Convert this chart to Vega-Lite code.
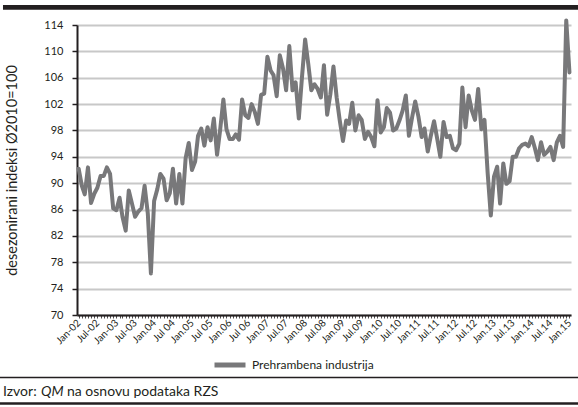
{
  "$schema": "https://vega.github.io/schema/vega-lite/v6.json",
  "width": 494,
  "height": 290,
  "autosize": {"type": "none"},
  "padding": {"left": 77, "top": 25, "right": 7, "bottom": 92},
  "background": "white",
  "config": {"font": "Lato", "view": {"stroke": null}},
  "resolve": {"axis": {"x": "independent", "y": "independent"}},
  "data": {"values": [
    {"date": "2002-01-01", "value": 92.2, "series": "Prehrambena industrija"},
    {"date": "2002-02-01", "value": 89.6, "series": "Prehrambena industrija"},
    {"date": "2002-03-01", "value": 88.3, "series": "Prehrambena industrija"},
    {"date": "2002-04-01", "value": 92.4, "series": "Prehrambena industrija"},
    {"date": "2002-05-01", "value": 87.0, "series": "Prehrambena industrija"},
    {"date": "2002-06-01", "value": 88.4, "series": "Prehrambena industrija"},
    {"date": "2002-07-01", "value": 89.3, "series": "Prehrambena industrija"},
    {"date": "2002-08-01", "value": 91.1, "series": "Prehrambena industrija"},
    {"date": "2002-09-01", "value": 91.1, "series": "Prehrambena industrija"},
    {"date": "2002-10-01", "value": 92.4, "series": "Prehrambena industrija"},
    {"date": "2002-11-01", "value": 91.4, "series": "Prehrambena industrija"},
    {"date": "2002-12-01", "value": 86.2, "series": "Prehrambena industrija"},
    {"date": "2003-01-01", "value": 85.9, "series": "Prehrambena industrija"},
    {"date": "2003-02-01", "value": 87.8, "series": "Prehrambena industrija"},
    {"date": "2003-03-01", "value": 84.9, "series": "Prehrambena industrija"},
    {"date": "2003-04-01", "value": 82.8, "series": "Prehrambena industrija"},
    {"date": "2003-05-01", "value": 88.9, "series": "Prehrambena industrija"},
    {"date": "2003-06-01", "value": 86.9, "series": "Prehrambena industrija"},
    {"date": "2003-07-01", "value": 84.9, "series": "Prehrambena industrija"},
    {"date": "2003-08-01", "value": 85.7, "series": "Prehrambena industrija"},
    {"date": "2003-09-01", "value": 86.2, "series": "Prehrambena industrija"},
    {"date": "2003-10-01", "value": 89.6, "series": "Prehrambena industrija"},
    {"date": "2003-11-01", "value": 85.4, "series": "Prehrambena industrija"},
    {"date": "2003-12-01", "value": 76.3, "series": "Prehrambena industrija"},
    {"date": "2004-01-01", "value": 87.3, "series": "Prehrambena industrija"},
    {"date": "2004-02-01", "value": 89.1, "series": "Prehrambena industrija"},
    {"date": "2004-03-01", "value": 91.4, "series": "Prehrambena industrija"},
    {"date": "2004-04-01", "value": 90.7, "series": "Prehrambena industrija"},
    {"date": "2004-05-01", "value": 87.4, "series": "Prehrambena industrija"},
    {"date": "2004-06-01", "value": 88.5, "series": "Prehrambena industrija"},
    {"date": "2004-07-01", "value": 92.2, "series": "Prehrambena industrija"},
    {"date": "2004-08-01", "value": 86.9, "series": "Prehrambena industrija"},
    {"date": "2004-09-01", "value": 91.4, "series": "Prehrambena industrija"},
    {"date": "2004-10-01", "value": 86.9, "series": "Prehrambena industrija"},
    {"date": "2004-11-01", "value": 93.8, "series": "Prehrambena industrija"},
    {"date": "2004-12-01", "value": 96.1, "series": "Prehrambena industrija"},
    {"date": "2005-01-01", "value": 92.0, "series": "Prehrambena industrija"},
    {"date": "2005-02-01", "value": 93.3, "series": "Prehrambena industrija"},
    {"date": "2005-03-01", "value": 97.2, "series": "Prehrambena industrija"},
    {"date": "2005-04-01", "value": 98.3, "series": "Prehrambena industrija"},
    {"date": "2005-05-01", "value": 95.7, "series": "Prehrambena industrija"},
    {"date": "2005-06-01", "value": 98.5, "series": "Prehrambena industrija"},
    {"date": "2005-07-01", "value": 96.5, "series": "Prehrambena industrija"},
    {"date": "2005-08-01", "value": 99.8, "series": "Prehrambena industrija"},
    {"date": "2005-09-01", "value": 94.3, "series": "Prehrambena industrija"},
    {"date": "2005-10-01", "value": 98.1, "series": "Prehrambena industrija"},
    {"date": "2005-11-01", "value": 102.7, "series": "Prehrambena industrija"},
    {"date": "2005-12-01", "value": 98.2, "series": "Prehrambena industrija"},
    {"date": "2006-01-01", "value": 96.7, "series": "Prehrambena industrija"},
    {"date": "2006-02-01", "value": 96.7, "series": "Prehrambena industrija"},
    {"date": "2006-03-01", "value": 97.4, "series": "Prehrambena industrija"},
    {"date": "2006-04-01", "value": 96.6, "series": "Prehrambena industrija"},
    {"date": "2006-05-01", "value": 102.7, "series": "Prehrambena industrija"},
    {"date": "2006-06-01", "value": 100.3, "series": "Prehrambena industrija"},
    {"date": "2006-07-01", "value": 99.9, "series": "Prehrambena industrija"},
    {"date": "2006-08-01", "value": 102.0, "series": "Prehrambena industrija"},
    {"date": "2006-09-01", "value": 100.8, "series": "Prehrambena industrija"},
    {"date": "2006-10-01", "value": 99.0, "series": "Prehrambena industrija"},
    {"date": "2006-11-01", "value": 103.4, "series": "Prehrambena industrija"},
    {"date": "2006-12-01", "value": 103.6, "series": "Prehrambena industrija"},
    {"date": "2007-01-01", "value": 109.2, "series": "Prehrambena industrija"},
    {"date": "2007-02-01", "value": 107.1, "series": "Prehrambena industrija"},
    {"date": "2007-03-01", "value": 106.4, "series": "Prehrambena industrija"},
    {"date": "2007-04-01", "value": 103.2, "series": "Prehrambena industrija"},
    {"date": "2007-05-01", "value": 109.4, "series": "Prehrambena industrija"},
    {"date": "2007-06-01", "value": 107.4, "series": "Prehrambena industrija"},
    {"date": "2007-07-01", "value": 104.1, "series": "Prehrambena industrija"},
    {"date": "2007-08-01", "value": 110.8, "series": "Prehrambena industrija"},
    {"date": "2007-09-01", "value": 104.1, "series": "Prehrambena industrija"},
    {"date": "2007-10-01", "value": 105.3, "series": "Prehrambena industrija"},
    {"date": "2007-11-01", "value": 99.8, "series": "Prehrambena industrija"},
    {"date": "2007-12-01", "value": 106.0, "series": "Prehrambena industrija"},
    {"date": "2008-01-01", "value": 111.8, "series": "Prehrambena industrija"},
    {"date": "2008-02-01", "value": 108.0, "series": "Prehrambena industrija"},
    {"date": "2008-03-01", "value": 104.1, "series": "Prehrambena industrija"},
    {"date": "2008-04-01", "value": 105.0, "series": "Prehrambena industrija"},
    {"date": "2008-05-01", "value": 104.3, "series": "Prehrambena industrija"},
    {"date": "2008-06-01", "value": 103.0, "series": "Prehrambena industrija"},
    {"date": "2008-07-01", "value": 107.9, "series": "Prehrambena industrija"},
    {"date": "2008-08-01", "value": 100.4, "series": "Prehrambena industrija"},
    {"date": "2008-09-01", "value": 103.5, "series": "Prehrambena industrija"},
    {"date": "2008-10-01", "value": 107.7, "series": "Prehrambena industrija"},
    {"date": "2008-11-01", "value": 103.0, "series": "Prehrambena industrija"},
    {"date": "2008-12-01", "value": 99.5, "series": "Prehrambena industrija"},
    {"date": "2009-01-01", "value": 96.4, "series": "Prehrambena industrija"},
    {"date": "2009-02-01", "value": 99.5, "series": "Prehrambena industrija"},
    {"date": "2009-03-01", "value": 99.0, "series": "Prehrambena industrija"},
    {"date": "2009-04-01", "value": 102.2, "series": "Prehrambena industrija"},
    {"date": "2009-05-01", "value": 98.0, "series": "Prehrambena industrija"},
    {"date": "2009-06-01", "value": 100.3, "series": "Prehrambena industrija"},
    {"date": "2009-07-01", "value": 99.6, "series": "Prehrambena industrija"},
    {"date": "2009-08-01", "value": 96.7, "series": "Prehrambena industrija"},
    {"date": "2009-09-01", "value": 97.8, "series": "Prehrambena industrija"},
    {"date": "2009-10-01", "value": 97.0, "series": "Prehrambena industrija"},
    {"date": "2009-11-01", "value": 95.6, "series": "Prehrambena industrija"},
    {"date": "2009-12-01", "value": 102.6, "series": "Prehrambena industrija"},
    {"date": "2010-01-01", "value": 97.7, "series": "Prehrambena industrija"},
    {"date": "2010-02-01", "value": 98.5, "series": "Prehrambena industrija"},
    {"date": "2010-03-01", "value": 101.4, "series": "Prehrambena industrija"},
    {"date": "2010-04-01", "value": 100.7, "series": "Prehrambena industrija"},
    {"date": "2010-05-01", "value": 98.0, "series": "Prehrambena industrija"},
    {"date": "2010-06-01", "value": 98.3, "series": "Prehrambena industrija"},
    {"date": "2010-07-01", "value": 99.5, "series": "Prehrambena industrija"},
    {"date": "2010-08-01", "value": 101.0, "series": "Prehrambena industrija"},
    {"date": "2010-09-01", "value": 103.3, "series": "Prehrambena industrija"},
    {"date": "2010-10-01", "value": 97.2, "series": "Prehrambena industrija"},
    {"date": "2010-11-01", "value": 100.0, "series": "Prehrambena industrija"},
    {"date": "2010-12-01", "value": 102.4, "series": "Prehrambena industrija"},
    {"date": "2011-01-01", "value": 100.1, "series": "Prehrambena industrija"},
    {"date": "2011-02-01", "value": 97.0, "series": "Prehrambena industrija"},
    {"date": "2011-03-01", "value": 98.3, "series": "Prehrambena industrija"},
    {"date": "2011-04-01", "value": 94.8, "series": "Prehrambena industrija"},
    {"date": "2011-05-01", "value": 97.2, "series": "Prehrambena industrija"},
    {"date": "2011-06-01", "value": 99.4, "series": "Prehrambena industrija"},
    {"date": "2011-07-01", "value": 96.8, "series": "Prehrambena industrija"},
    {"date": "2011-08-01", "value": 94.0, "series": "Prehrambena industrija"},
    {"date": "2011-09-01", "value": 99.3, "series": "Prehrambena industrija"},
    {"date": "2011-10-01", "value": 97.0, "series": "Prehrambena industrija"},
    {"date": "2011-11-01", "value": 97.2, "series": "Prehrambena industrija"},
    {"date": "2011-12-01", "value": 95.3, "series": "Prehrambena industrija"},
    {"date": "2012-01-01", "value": 95.0, "series": "Prehrambena industrija"},
    {"date": "2012-02-01", "value": 96.0, "series": "Prehrambena industrija"},
    {"date": "2012-03-01", "value": 104.5, "series": "Prehrambena industrija"},
    {"date": "2012-04-01", "value": 98.5, "series": "Prehrambena industrija"},
    {"date": "2012-05-01", "value": 103.3, "series": "Prehrambena industrija"},
    {"date": "2012-06-01", "value": 101.0, "series": "Prehrambena industrija"},
    {"date": "2012-07-01", "value": 99.6, "series": "Prehrambena industrija"},
    {"date": "2012-08-01", "value": 104.3, "series": "Prehrambena industrija"},
    {"date": "2012-09-01", "value": 98.2, "series": "Prehrambena industrija"},
    {"date": "2012-10-01", "value": 99.6, "series": "Prehrambena industrija"},
    {"date": "2012-11-01", "value": 91.5, "series": "Prehrambena industrija"},
    {"date": "2012-12-01", "value": 85.1, "series": "Prehrambena industrija"},
    {"date": "2013-01-01", "value": 91.0, "series": "Prehrambena industrija"},
    {"date": "2013-02-01", "value": 92.5, "series": "Prehrambena industrija"},
    {"date": "2013-03-01", "value": 86.9, "series": "Prehrambena industrija"},
    {"date": "2013-04-01", "value": 93.0, "series": "Prehrambena industrija"},
    {"date": "2013-05-01", "value": 89.9, "series": "Prehrambena industrija"},
    {"date": "2013-06-01", "value": 90.3, "series": "Prehrambena industrija"},
    {"date": "2013-07-01", "value": 94.0, "series": "Prehrambena industrija"},
    {"date": "2013-08-01", "value": 94.0, "series": "Prehrambena industrija"},
    {"date": "2013-09-01", "value": 95.3, "series": "Prehrambena industrija"},
    {"date": "2013-10-01", "value": 95.8, "series": "Prehrambena industrija"},
    {"date": "2013-11-01", "value": 96.0, "series": "Prehrambena industrija"},
    {"date": "2013-12-01", "value": 95.6, "series": "Prehrambena industrija"},
    {"date": "2014-01-01", "value": 97.0, "series": "Prehrambena industrija"},
    {"date": "2014-02-01", "value": 95.3, "series": "Prehrambena industrija"},
    {"date": "2014-03-01", "value": 93.5, "series": "Prehrambena industrija"},
    {"date": "2014-04-01", "value": 96.2, "series": "Prehrambena industrija"},
    {"date": "2014-05-01", "value": 94.3, "series": "Prehrambena industrija"},
    {"date": "2014-06-01", "value": 94.8, "series": "Prehrambena industrija"},
    {"date": "2014-07-01", "value": 95.5, "series": "Prehrambena industrija"},
    {"date": "2014-08-01", "value": 93.5, "series": "Prehrambena industrija"},
    {"date": "2014-09-01", "value": 96.2, "series": "Prehrambena industrija"},
    {"date": "2014-10-01", "value": 97.2, "series": "Prehrambena industrija"},
    {"date": "2014-11-01", "value": 95.5, "series": "Prehrambena industrija"},
    {"date": "2014-12-01", "value": 114.7, "series": "Prehrambena industrija"},
    {"date": "2015-01-01", "value": 106.8, "series": "Prehrambena industrija"}
  ]},
  "layer": [
    {
      "mark": {"type": "line", "strokeWidth": 4, "strokeJoin": "round", "strokeCap": "round"},
      "encoding": {
        "x": {
          "field": "date", "type": "temporal",
          "scale": {"type": "utc", "domain": [{"year": 2001, "month": 12, "date": 16, "utc": true}, {"year": 2015, "month": 1, "date": 16, "utc": true}]},
          "axis": {
            "title": null,
            "tickCount": {"interval": "month", "step": 1},
            "labelExpr": "utcmonth(datum.value) % 6 == 0 ? ['Jan-02','Jul-02','Jan-03','Jul-03','Jan.04','Jul 04','Jan.05','Jul 05','Jan.06','Jul 06','Jan.07','Jul.07','Jan.08','Jul.08','Jan.09','Jul.09','Jan.10','Jul.10','Jan.11','Jul.11','Jan.12','Jul.12','Jan.13','Jul.13','Jan.14','Jul.14','Jan.15'][(utcyear(datum.value) - 2002) * 2 + utcmonth(datum.value) / 6] : ''",
            "labelAngle": -45,
            "labelAlign": "right",
            "labelBaseline": "middle",
            "labelFontSize": 10,
            "labelColor": "#231f20",
            "labelOverlap": false,
            "labelFlush": false,
            "labelBound": false,
            "labelPadding": 3,
            "grid": false,
            "tickSize": 3,
            "tickWidth": 0.8,
            "tickColor": "#231f20",
            "domainColor": "#231f20",
            "domainWidth": 2
          }
        },
        "y": {
          "field": "value", "type": "quantitative",
          "scale": {"domain": [70, 114], "nice": false, "zero": false},
          "axis": {
            "title": "desezonirani indeksi Ø2010=100",
            "titleFontSize": 14.5,
            "titleFontWeight": "normal",
            "titleColor": "#231f20",
            "titlePadding": 24,
            "values": [70, 74, 78, 82, 86, 90, 94, 98, 102, 106, 110, 114],
            "labelOverlap": false,
            "labelFontSize": 11,
            "labelColor": "#231f20",
            "labelPadding": 9,
            "tickSize": 5,
            "tickWidth": 1.5,
            "tickColor": "#231f20",
            "domainColor": "#231f20",
            "domainWidth": 2,
            "grid": true,
            "gridColor": "#c8c8c8",
            "gridWidth": 2
          }
        },
        "color": {
          "field": "series", "type": "nominal",
          "scale": {"range": ["#78787a"]},
          "legend": {
            "orient": "none", "legendX": 135, "legendY": 322,
            "title": null, "padding": 0,
            "symbolType": "stroke", "symbolSize": 961, "symbolStrokeWidth": 5,
            "labelFontSize": 12, "labelColor": "#231f20", "labelOffset": 4
          }
        }
      }
    },
    {
      "data": {"values": [{}]},
      "mark": {"type": "rect", "color": "#231f20"},
      "encoding": {
        "x": {"datum": {"year": 1999, "month": 12, "date": 31, "utc": true}, "type": "temporal", "axis": null, "scale": {"type": "utc", "domain": [{"year": 2001, "month": 12, "date": 16, "utc": true}, {"year": 2015, "month": 1, "date": 16, "utc": true}]}},
        "x2": {"datum": {"year": 2015, "month": 3, "date": 25, "utc": true}},
        "y": {"datum": 116.3, "type": "quantitative", "axis": null, "scale": {"domain": [70, 114], "nice": false, "zero": false}},
        "y2": {"datum": 117.05}
      }
    },
    {
      "data": {"values": [{}]},
      "mark": {"type": "rule", "color": "#231f20", "strokeWidth": 1.5},
      "encoding": {
        "x": {"datum": {"year": 1999, "month": 12, "date": 2, "utc": true}, "type": "temporal", "axis": null, "scale": {"type": "utc", "domain": [{"year": 2001, "month": 12, "date": 16, "utc": true}, {"year": 2015, "month": 1, "date": 16, "utc": true}]}},
        "x2": {"datum": {"year": 2015, "month": 3, "date": 25, "utc": true}},
        "y": {"datum": 60.52, "type": "quantitative", "axis": null, "scale": {"domain": [70, 114], "nice": false, "zero": false}}
      }
    },
    {
      "data": {"values": [{}]},
      "mark": {"type": "rule", "color": "#231f20", "strokeWidth": 2.5},
      "encoding": {
        "x": {"datum": {"year": 1999, "month": 12, "date": 2, "utc": true}, "type": "temporal", "axis": null, "scale": {"type": "utc", "domain": [{"year": 2001, "month": 12, "date": 16, "utc": true}, {"year": 2015, "month": 1, "date": 16, "utc": true}]}},
        "x2": {"datum": {"year": 2015, "month": 3, "date": 25, "utc": true}},
        "y": {"datum": 56.57, "type": "quantitative", "axis": null, "scale": {"domain": [70, 114], "nice": false, "zero": false}}
      }
    },
    {
      "data": {"values": [{}]},
      "mark": {"type": "text", "align": "left", "baseline": "alphabetic", "fontSize": 14, "color": "#231f20"},
      "encoding": {
        "x": {"datum": {"year": 1999, "month": 12, "date": 31, "utc": true}, "type": "temporal", "axis": null, "scale": {"type": "utc", "domain": [{"year": 2001, "month": 12, "date": 16, "utc": true}, {"year": 2015, "month": 1, "date": 16, "utc": true}]}},
        "y": {"datum": 57.71, "type": "quantitative", "axis": null, "scale": {"domain": [70, 114], "nice": false, "zero": false}},
        "text": {"value": "Izvor:"}
      }
    },
    {
      "data": {"values": [{}]},
      "mark": {"type": "text", "align": "left", "baseline": "alphabetic", "fontSize": 14, "fontStyle": "italic", "color": "#231f20"},
      "encoding": {
        "x": {"datum": {"year": 2001, "month": 1, "date": 2, "utc": true}, "type": "temporal", "axis": null, "scale": {"type": "utc", "domain": [{"year": 2001, "month": 12, "date": 16, "utc": true}, {"year": 2015, "month": 1, "date": 16, "utc": true}]}},
        "y": {"datum": 57.71, "type": "quantitative", "axis": null, "scale": {"domain": [70, 114], "nice": false, "zero": false}},
        "text": {"value": "QM"}
      }
    },
    {
      "data": {"values": [{}]},
      "mark": {"type": "text", "align": "left", "baseline": "alphabetic", "fontSize": 14, "color": "#231f20"},
      "encoding": {
        "x": {"datum": {"year": 2001, "month": 9, "date": 10, "utc": true}, "type": "temporal", "axis": null, "scale": {"type": "utc", "domain": [{"year": 2001, "month": 12, "date": 16, "utc": true}, {"year": 2015, "month": 1, "date": 16, "utc": true}]}},
        "y": {"datum": 57.71, "type": "quantitative", "axis": null, "scale": {"domain": [70, 114], "nice": false, "zero": false}},
        "text": {"value": "na osnovu podataka RZS"}
      }
    }
  ]
}
